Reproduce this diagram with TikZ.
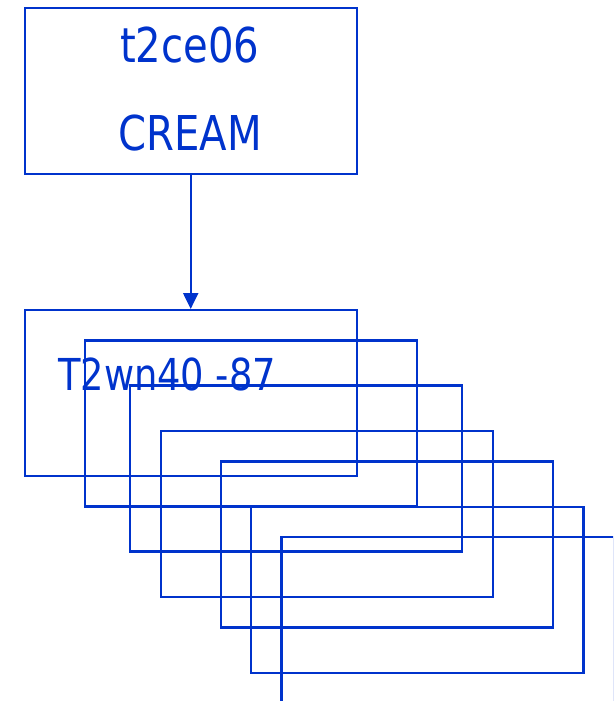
\documentclass[tikz,border=0pt]{standalone}
\usepackage{fontspec}
\newfontfamily\boxfont{DejaVu Sans Condensed}[FakeStretch=0.93]
\usetikzlibrary{arrows.meta}
\definecolor{boxblue}{RGB}{0,51,204}

\begin{document}
\begin{tikzpicture}[x=1pt,y=-1pt,>={Triangle[length=16pt,width=15pt]},
    wnbox/.style={draw=boxblue,line width=2.2pt,rectangle,inner sep=0pt,
        minimum width=332.2pt,minimum height=166pt},
    wnlabel/.style={text=boxblue,inner sep=0pt,anchor=base,font=\boxfont}]
    \useasboundingbox (0,0) rectangle (613,701);
    \clip (0,0) rectangle (613,701);

    % head node
    \node[wnbox,anchor=north west] (cream) at (23.5,6.7) {};
    \node[wnlabel,font=\boxfont\fontsize{48}{48}\selectfont] (host) at (189.6,63) {t2ce06};
    \node[wnlabel,font=\boxfont\fontsize{48}{48}\selectfont] (ce) at (190.4,150) {CREAM};

    % stack of worker nodes
    \foreach \i/\x/\y in {1/23.5/309,2/83.7/339.3,3/129/384.3,4/159.5/430,
        5/220/460.3,6/250.2/505.7,7/280.3/536}
        \node[wnbox,anchor=north west] (w\i) at (\x,\y) {};
    \node[wnlabel,anchor=base west,font=\boxfont\fontsize{44}{44}\selectfont] (wn) at (58,390) {T2wn40 -87};

    \draw[boxblue,line width=2.2pt,->] (cream.south) -- (w1.north);
\end{tikzpicture}
\end{document}
